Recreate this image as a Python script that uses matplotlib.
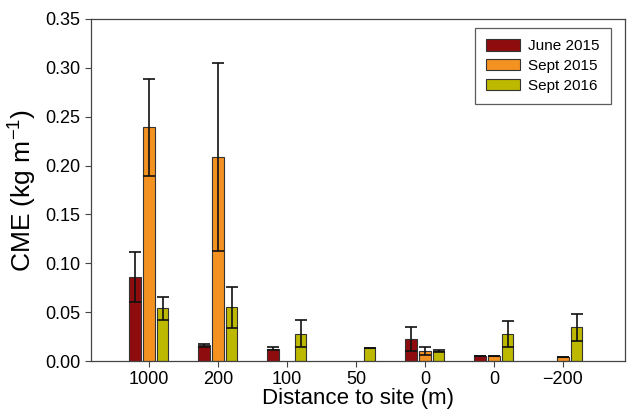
import matplotlib
matplotlib.use('Agg')
import matplotlib.pyplot as plt
import numpy as np

plt.rcParams['font.family'] = ['Liberation Sans', 'DejaVu Sans']
plt.rcParams['mathtext.fontset'] = 'custom'
plt.rcParams['mathtext.rm'] = 'Liberation Sans'

distances = ['1000', '200', '100', '50', '0', '0', '\u2212200']
series = ['June 2015', 'Sept 2015', 'Sept 2016']
colors = ['#8e0c0e', '#f39220', '#bdb800']

june2015 = [0.086, 0.016, 0.0127, np.nan, 0.0226, 0.0055, np.nan]
june2015_err = [0.026, 0.0015, 0.0012, np.nan, 0.012, 0.0, np.nan]
sept2015 = [0.239, 0.209, np.nan, np.nan, 0.0106, 0.0055, 0.0045]
sept2015_err = [0.050, 0.096, np.nan, np.nan, 0.004, 0.0, 0.0]
sept2016 = [0.054, 0.055, 0.028, 0.013, 0.0106, 0.0277, 0.0346]
sept2016_err = [0.012, 0.021, 0.014, 0.0, 0.001, 0.013, 0.014]

values = [june2015, sept2015, sept2016]
errors = [june2015_err, sept2015_err, sept2016_err]

fig = plt.figure(figsize=(6.27, 4.13), dpi=100)
ax = fig.add_axes([0.1451, 0.1259, 0.8517, 0.8281])

x = np.arange(len(distances))
w = 0.167
for i in range(3):
    ax.bar(x + (i - 1) * 0.2, values[i], w, yerr=errors[i], color=colors[i],
           edgecolor='#333333', linewidth=0.8, label=series[i],
           error_kw=dict(ecolor='#111111', elinewidth=1.2, capsize=4, capthick=1.2))

ax.set_xlim(-0.84, 6.90)
ax.set_ylim(0, 0.35)
ax.set_xticks(x)
ax.set_xticklabels(distances)
ax.set_yticks(np.arange(0, 0.351, 0.05))
ax.set_yticklabels(['%.2f' % v for v in np.arange(0, 0.351, 0.05)])
ax.tick_params(labelsize=13, color='#444444', length=4, width=0.8)
for s in ax.spines.values():
    s.set_color('#444444')
    s.set_linewidth(0.9)

ax.set_xlabel('Distance to site (m)', fontsize=16, labelpad=0)
ax.set_ylabel(r'CME (kg m$^{\mathregular{-1}}$)', fontsize=19, labelpad=5)

leg = ax.legend(loc='upper right', bbox_to_anchor=(0.974, 0.974), borderaxespad=0,
                fontsize=11, frameon=True, fancybox=False, edgecolor='#333333',
                handlelength=2.2, handleheight=0.75, handletextpad=0.55,
                borderpad=0.75, labelspacing=0.38)
leg.get_frame().set_linewidth(0.9)

fig.savefig('out.png', dpi=100)
